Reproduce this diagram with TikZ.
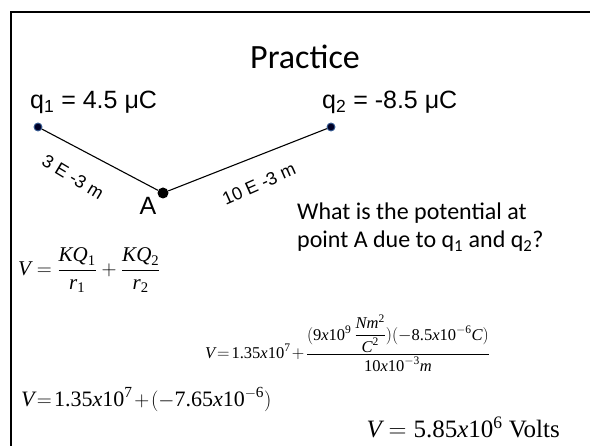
\documentclass[tikz,border=0pt]{standalone}
\usepackage{amsmath}
\usepackage{fontspec}
\newfontfamily\calfont{Carlito}
\newfontfamily\arfont{Liberation Sans}
\newfontfamily\tnrfont{Liberation Serif}
\newcommand\iv[1]{\text{\itshape #1}}
\newcommand\uv[1]{\text{\upshape #1}}
\newcommand\scix[2]{\uv{#1}\iv{x}\uv{10}^{#2}}
\newcommand\tightmath{\thickmuskip=2mu plus 1mu\medmuskip=1.5mu plus 1mu}
\definecolor{dotblue}{RGB}{58,95,150}
\tikzset{
  wire/.style={line width=1.1pt},
  chargedot/.style={circle, fill=black!85!blue, draw=dotblue, line width=0.9pt, minimum size=8pt, inner sep=0pt},
  pointdot/.style={circle, fill=black, minimum size=11pt, inner sep=0pt},
  arlabel/.style={font=\arfont\fontsize{25}{28}\selectfont, inner sep=0pt},
  distlabel/.style={font=\arfont\fontsize{18}{20}\selectfont, inner sep=0pt},
  formula/.style={font=\tnrfont\fontsize{22}{26}\selectfont, inner sep=0pt},
}
\begin{document}
\begin{tikzpicture}[x=1pt,y=-1pt]
\useasboundingbox (0,0) rectangle (590,446);
\draw[line width=2pt] (11,446) -- (11,12) -- (590,12);

\node[font=\calfont\fontsize{34}{40}\selectfont, inner sep=0pt, anchor=base] (title) at (305,69) {Practice};

\node[arlabel, anchor=base west] (q1lab) at (30,109) {q\textsubscript{1} = 4.5 μC};
\node[arlabel, anchor=base west] (q2lab) at (322,109) {q\textsubscript{2} = -8.5 μC};

\node[chargedot] (q1) at (38,127) {};
\node[chargedot] (q2) at (331,127) {};
\node[pointdot] (A) at (163,193) {};
\draw[wire] (q1) -- (A);
\draw[wire] (A) -- (q2);

\node[arlabel, anchor=base] (Alab) at (148,215) {A};
\node[distlabel, rotate=-31] (d1) at (73,177) {3 E -3 m};
\node[distlabel, rotate=24] (d2) at (259,184) {10 E -3 m};

\node[font=\calfont\fontsize{24}{28}\selectfont, inner sep=0pt, align=left, anchor=north west] (question) at (297,203)
  {What is the potential at\\point A due to q\textsubscript{1} and q\textsubscript{2}?};

\node[formula, font=\tnrfont\fontsize{21}{26}\selectfont, anchor=west] (f1) at (18,270)
  {$\displaystyle \iv{V} = \frac{\iv{KQ}_{\uv{1}}}{\iv{r}_{\uv{1}}} + \frac{\iv{KQ}_{\uv{2}}}{\iv{r}_{\uv{2}}}$};

\node[formula, font=\tnrfont\fontsize{16.5}{19}\selectfont, anchor=base west] (f2) at (205,359)
  {$\tightmath\displaystyle \iv{V} = \scix{1.35}{\uv{7}} + \frac{(\scix{9}{\uv{9}}\,\dfrac{\iv{Nm}^{\uv{2}}}{\iv{C}^{\uv{2}}})(-\scix{8.5}{-\uv{6}}\iv{C})}{\scix{10}{-\uv{3}}\iv{m}}$};

\node[formula, font=\tnrfont\fontsize{22}{26}\selectfont, anchor=base west] (f3) at (21,407)
  {$\tightmath \iv{V} = \scix{1.35}{\uv{7}} + (-\scix{7.65}{-\uv{6}})$};

\node[formula, font=\tnrfont\fontsize{25}{28}\selectfont, anchor=base east] (f4) at (560,438)
  {$\iv{V} = \scix{5.85}{\uv{6}}$ Volts};
\end{tikzpicture}
\end{document}
